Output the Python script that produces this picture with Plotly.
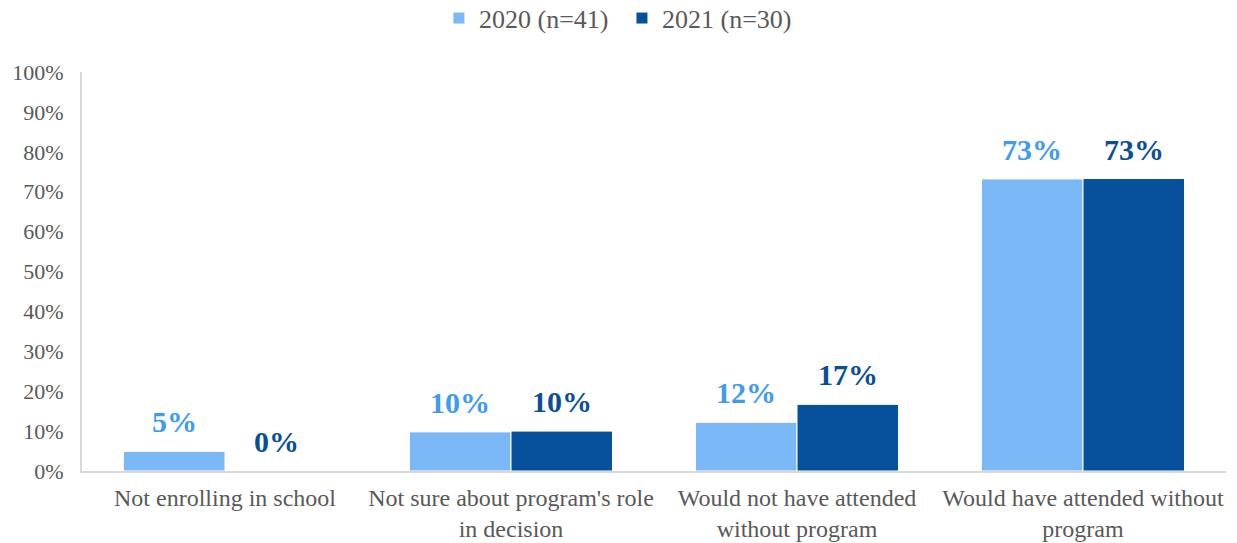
import plotly.graph_objects as go

categories = [
    "Not enrolling in school",
    "Not sure about program's role<br>in decision",
    "Would not have attended<br>without program",
    "Would have attended without<br>program",
]
series_names = ["2020 (n=41)", "2021 (n=30)"]
values_2020 = [4.9, 9.8, 12.2, 73.2]
values_2021 = [0.0, 10.0, 16.7, 73.3]
tick_vals = list(range(0, 101, 10))
tick_text = [f"{v}%" for v in tick_vals]

bar_colors = ["#7AB8F7", "#07509C"]
label_colors = ["#3D9BF0", "#0A4E98"]
font_family = "Liberation Serif"
text_gray = "#595959"

fig = go.Figure()
for name, vals, color in zip(series_names, [values_2020, values_2021], bar_colors):
    fig.add_trace(go.Bar(
        x=categories, y=vals, name=name,
        marker=dict(color=color, line=dict(color="white", width=1)),
    ))

# value labels above each bar
for i, (vals, lc) in enumerate(zip([values_2020, values_2021], label_colors)):
    shift = -51 if i == 0 else 51
    for cat, v in zip(categories, vals):
        fig.add_annotation(
            x=cat, y=v, xref="x", yref="y",
            text=f"<b>{round(v):.0f}%</b>",
            showarrow=False, xshift=shift, yshift=11, yanchor="bottom",
            font=dict(family=font_family, size=30, color=lc),
        )

fig.update_layout(
    width=1237, height=543,
    margin=dict(l=82, r=11, t=72, b=72, autoexpand=False),
    plot_bgcolor="white", paper_bgcolor="white",
    barmode="group", bargap=0.29, bargroupgap=0,
    font=dict(family=font_family, color=text_gray, size=22),
    legend=dict(orientation="h", x=0.472, xanchor="center", y=1.135, yanchor="middle",
                font=dict(family=font_family, size=26, color=text_gray),
                itemwidth=30, entrywidth=138, entrywidthmode="pixels"),
    showlegend=True,
)
fig.update_yaxes(range=[0, 100], tickvals=tick_vals, ticktext=tick_text,
                 showgrid=False, showline=True, linecolor="#D9D9D9", linewidth=2,
                 zeroline=False, ticks="", ticklabelstandoff=12,
                 tickfont=dict(family=font_family, size=22, color=text_gray))
fig.update_xaxes(showline=True, linecolor="#D9D9D9", linewidth=2, showgrid=False,
                 ticks="", ticklabelstandoff=4,
                 tickfont=dict(family=font_family, size=24, color=text_gray))

fig.write_html("out.html")
